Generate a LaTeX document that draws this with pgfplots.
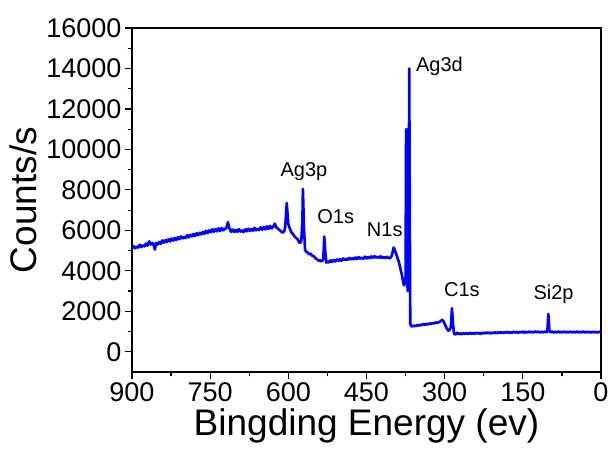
\documentclass[border=0pt]{standalone}
\usepackage{fontspec}
\setmainfont{Liberation Sans}
\usepackage{pgfplots}
\pgfplotsset{compat=1.18}

\begin{document}
\begin{tikzpicture}
\begin{axis}[
    at={(0pt,0pt)}, anchor=south west,
    scale only axis, width=469pt, height=344pt,
    x dir=reverse, xmin=0, xmax=900, ymin=-1000, ymax=16000,
    xtick={0,150,...,900}, ytick={0,2000,...,16000},
    scaled y ticks=false,
    minor x tick num=1, minor y tick num=1,
    tick align=outside, xtick pos=bottom, ytick pos=left,
    major tick length=7pt, minor tick length=4pt,
    every tick/.style={black, line width=1.2pt},
    axis line style={line width=1.2pt},
    /pgf/number format/1000 sep={},
    /pgf/number format/assume math mode=true,
    tick label style={font=\fontsize{27}{30}\selectfont},
    xlabel={Bingding Energy (ev)}, ylabel={Counts/s},
    label style={font=\fontsize{37}{40}\selectfont},
    ylabel style={yshift=3pt},
]
\addplot[blue, line width=2.6pt, line join=round] coordinates {
(900,5120) (897,5220) (894,5110) (891,5200) (888,5150) (885,5290) (882,5180)
(879,5260) (876,5210) (873,5350) (870,5240) (867,5460) (864,5300) (861,5380)
(858,5250) (856,5050) (854,5380) (851,5300) (848,5420) (845,5330) (842,5500)
(839,5390) (836,5520) (833,5420) (830,5560) (827,5450) (824,5600) (821,5490)
(818,5620) (815,5520) (812,5660) (809,5560) (806,5700) (803,5600) (800,5680)
(797,5620) (794,5760) (791,5650) (788,5790) (785,5700) (782,5820) (779,5720)
(776,5860) (773,5760) (770,5880) (767,5800) (764,5920) (761,5830) (758,5980)
(755,5860) (752,6000) (749,5900) (746,6050) (743,5930) (740,6060) (737,5950)
(734,6100) (731,5960) (728,6120) (725,6000) (722,6080) (719,6100) (716,6400)
(713,6100) (710,5930) (707,6040) (704,5920) (701,6020) (698,5930) (695,6060)
(692,5940) (689,6000) (686,5910) (683,6050) (680,5950) (677,6080) (674,5970)
(671,6060) (668,5980) (665,6120) (662,6000) (659,6080) (656,6010) (653,6150)
(650,6030) (647,6170) (644,6050) (641,6200) (638,6070) (635,6220) (632,6100)
(629,6180) (626,6330) (623,6150) (620,6080) (617,6020) (614,5950) (611,5880)
(608,5950) (606,6150) (603,7350) (600,6300) (597,6080) (594,5900) (591,5820)
(588,5700) (585,5620) (582,5560) (579,5400) (577,5380) (575,5500) (573,6500)
(572,8050) (570,6200) (568,5050) (566,4950) (563,4900) (560,4820) (557,4850)
(554,4740) (551,4720) (548,4620) (545,4580) (542,4500) (539,4520) (536,4460)
(533,4550) (531,5700) (529,4900) (527,4400) (525,4460) (522,4410) (519,4520)
(516,4440) (513,4540) (510,4460) (507,4560) (504,4490) (501,4580) (498,4500)
(495,4610) (492,4530) (489,4600) (486,4540) (483,4640) (480,4560) (477,4620)
(474,4570) (471,4660) (468,4580) (465,4680) (462,4600) (459,4650) (456,4590)
(453,4700) (450,4610) (447,4690) (444,4620) (441,4710) (438,4640) (435,4730)
(432,4650) (429,4700) (426,4640) (423,4720) (420,4630) (417,4690) (414,4620)
(411,4700) (408,4640) (405,4620) (402,4720) (400,4900) (398,5150) (396,5050)
(394,4900) (392,4750) (390,4600) (388,4450) (386,4250) (384,4000) (382,3800)
(380,3500) (378,3280) (376,3400) (375,3700) (374,10950) (373,11000) (372,3800)
(371,3000) (370,3100) (369,6000) (368,14000) (367,8000) (366,1400) (365,1300)
(362,1240) (359,1300) (356,1260) (353,1320) (350,1290) (347,1340) (344,1310)
(341,1370) (338,1330) (335,1380) (332,1350) (329,1400) (326,1380) (323,1420)
(320,1400) (317,1450) (314,1430) (311,1470) (308,1500) (305,1580) (302,1500)
(299,1320) (296,1150) (293,1040) (290,1100) (288,1250) (286,2150) (284,1400)
(282,900) (279,850) (276,940) (273,870) (270,910) (267,860) (264,930)
(261,880) (258,920) (255,870) (252,940) (249,890) (246,930) (243,880)
(240,950) (237,900) (234,930) (231,880) (228,940) (225,900) (222,950)
(219,910) (216,960) (213,900) (210,950) (207,920) (204,970) (201,910)
(198,960) (195,930) (192,980) (189,920) (186,970) (183,930) (180,990)
(177,940) (174,970) (171,920) (168,990) (165,950) (162,980) (159,930)
(156,990) (153,950) (150,1000) (147,940) (144,990) (141,950) (138,1000)
(135,960) (132,990) (129,950) (126,1010) (123,960) (120,1000) (117,950)
(114,990) (111,960) (108,1000) (105,960) (103,1000) (101,1870) (99,1050)
(97,960) (94,1000) (91,950) (88,990) (85,960) (82,1000) (79,950)
(76,990) (73,960) (70,1000) (67,950) (64,990) (61,960) (58,1000)
(55,950) (52,980) (49,960) (46,1000) (43,950) (40,990) (37,960)
(34,1000) (31,950) (28,990) (25,960) (22,980) (19,950) (16,990)
(13,960) (10,980) (7,950) (4,990) (0,960)
};
\begin{scope}[font=\fontsize{20}{22}\selectfont]
\node[anchor=base] at (axis cs:570,8680) {Ag3p};
\node[anchor=base] at (axis cs:509,6340) {O1s};
\node[anchor=base] at (axis cs:415,5700) {N1s};
\node[anchor=base] at (axis cs:310,13860) {Ag3d};
\node[anchor=base] at (axis cs:267,2720) {C1s};
\node[anchor=base] at (axis cs:91,2600) {Si2p};
\end{scope}
\end{axis}
\pgfresetboundingbox
\path[use as bounding box] (-132pt,-80pt) rectangle (480pt,372pt);
\end{tikzpicture}
\end{document}
